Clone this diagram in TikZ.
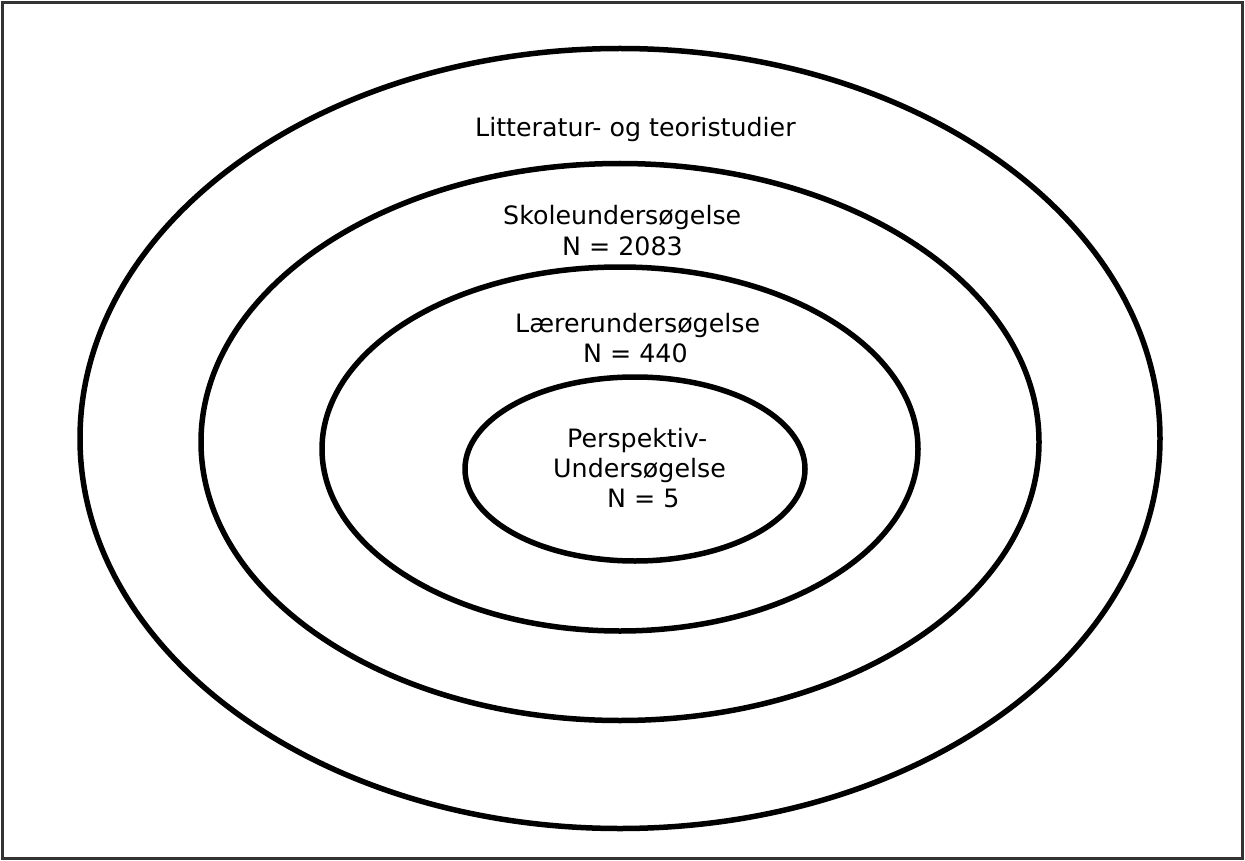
\documentclass[tikz,border=0pt]{standalone}
\usepackage{fontspec}
\setmainfont{DejaVu Sans}
\begin{document}
\begin{tikzpicture}[x=1pt,y=-1pt,
  ring/.style={draw=black,line width=5.5pt},
  lbl/.style={anchor=base west,inner sep=0pt,font=\fontsize{25.3}{30}\selectfont}]
\useasboundingbox (0,0) rectangle (1245,861);
\draw[draw=black!80,line width=3pt] (2.5,2.5) rectangle (1242.5,858.5);
\draw[ring] (620,438.5) ellipse [x radius=540pt, y radius=390pt];
\draw[ring] (620,442) ellipse [x radius=419pt, y radius=278.5pt];
\draw[ring] (620,449) ellipse [x radius=298pt, y radius=182pt];
\draw[ring] (635,469) ellipse [x radius=170pt, y radius=92pt];
\node[lbl] (lit) at (475,137) {Litteratur- og teoristudier};
\node[lbl] (sko) at (503,225) {Skoleundersøgelse};
\node[lbl] (skoN) at (562,255) {N = 2083};
\node[lbl] (lae) at (515,332) {Lærerundersøgelse};
\node[lbl] (laeN) at (583,362) {N = 440};
\node[lbl] (per) at (567,447) {Perspektiv-};
\node[lbl] (und) at (553,477) {Undersøgelse};
\node[lbl] (perN) at (607,507) {N = 5};
\end{tikzpicture}
\end{document}
